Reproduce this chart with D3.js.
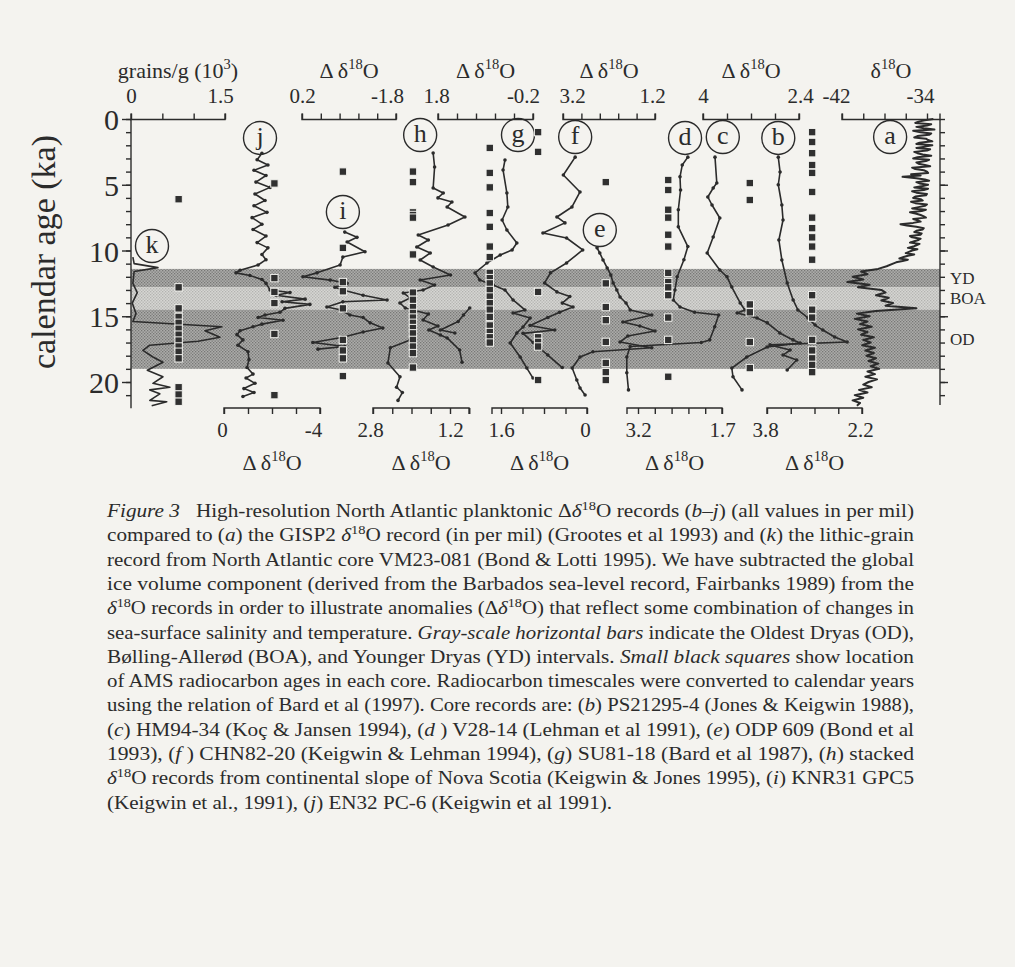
<!DOCTYPE html>
<html><head><meta charset="utf-8">
<script src="https://cdn.jsdelivr.net/npm/d3@7"></script>
<style>
body{margin:0;background:#f4f3ef;}
svg{display:block;}
text{font-family:"Liberation Serif","Times New Roman",serif;fill:#2b2b2b;}
</style></head><body>
<svg id="c" width="1015" height="967"></svg>
<script>
// ---------------- DATA ----------------
const ageMajorTicks = [0,5,10,15,20];
const ageMajorLabels = ['0','5','10','15','20'];
const ageMinorTicks = [0,1,2,3,4,5,6,7,8,9,10,11,12,13,14,15,16,17,18,19,20,21];

// climate intervals (ka)
const bandNames = ['YD','BOA','OD'];
const bandFrom  = [11.4, 12.8, 14.5];
const bandTo    = [12.8, 14.5, 19.0];
const bandTone  = ['dark','light','dark'];

// axis ticks / labels per panel
const ticksK=[0,0.5,1,1.5],                 labelsK=['0','','','1.5'];
const ticksJ=[0,-1,-2,-3,-4],               labelsJ=['0','','','','-4'];
const ticksI=[0.2,-0.2,-0.6,-1.0,-1.4,-1.8],labelsI=['0.2','','','','','-1.8'];
const ticksH=[2.8,2.4,2.0,1.6,1.2,0.8],     labelsH=['2.8','','','','1.2',''];
const ticksG=[1.8,1.4,1.0,0.6,0.2,-0.2],    labelsG=['1.8','','','','','-0.2'];
const ticksF=[1.6,1.2,0.8,0.4,0],           labelsF=['1.6','','','','0'];
const ticksE=[3.2,2.8,2.4,2.0,1.6,1.2],     labelsE=['3.2','','','','','1.2'];
const ticksD=[3.2,2.9,2.6,2.3,2.0,1.7],     labelsD=['3.2','','','','','1.7'];
const ticksC=[4,3.6,3.2,2.8,2.4],           labelsC=['4','','','','2.4'];
const ticksB=[3.8,3.4,3.0,2.6,2.2],         labelsB=['3.8','','','','2.2'];
const ticksA=[-42,-40,-38,-36,-34],         labelsA=['-42','','','','-34'];

// records: [age ka, value]
const recK = [[10.5,0.03],[11.0,0.05],[11.3,0.43],[11.6,0.05],[12.5,0.03],[13.2,0.10],[14.0,0.02],[14.8,0.08],[15.4,0.03],[15.8,1.45],[16.1,1.18],[16.6,1.42],[16.9,1.07],[17.2,0.30],[17.6,0.19],[18.1,0.35],[18.5,0.51],[19.1,0.26],[19.6,0.51],[20.1,0.35],[20.4,0.62],[20.6,0.30],[20.9,0.46],[21.4,0.30],[21.5,0.57],[21.8,0.33]];
const recJ = [[2.6,-1.58],[3.1,-1.38],[3.5,-1.83],[3.9,-1.25],[4.3,-1.75],[4.8,-1.33],[5.2,-1.92],[5.7,-1.29],[6.2,-1.71],[6.6,-1.25],[7.1,-1.79],[7.5,-1.17],[8.0,-1.58],[8.4,-1.21],[8.9,-1.75],[9.4,-1.38],[9.8,-1.83],[10.3,-1.58],[10.7,-1.75],[11.1,-1.42],[11.5,-0.67],[11.7,-0.5],[11.9,-1.08],[12.2,-1.58],[12.5,-1.75],[13.0,-1.92],[13.2,-2.75],[13.4,-2.17],[13.7,-3.38],[13.9,-2.42],[14.1,-3.58],[14.4,-2.54],[14.7,-2.33],[14.9,-1.71],[15.1,-1.42],[15.3,-2.46],[15.6,-1.58],[15.8,-1.21],[16.1,-0.67],[16.4,-0.54],[16.8,-0.79],[17.2,-0.58],[17.7,-1.0],[18.3,-1.04],[18.9,-0.96],[19.4,-1.21],[19.7,-0.92],[20.1,-1.29],[20.5,-0.83],[20.8,-1.25],[21.1,-0.79]];
const recI = [[8.6,-0.71],[9.0,-0.97],[9.35,-0.76],[10.1,-1.14],[10.5,-0.67],[11.1,-0.61],[11.7,-0.12],[12.0,0.18],[12.25,-0.4],[12.5,-0.76],[12.8,-0.5],[13.0,-0.67],[13.4,-1.1],[13.76,-1.61],[13.9,-0.67],[14.3,-0.33],[14.5,-0.61],[14.9,-0.82],[15.1,-1.1],[15.5,-1.25],[15.9,-1.52],[16.2,-1.1],[16.6,-0.67],[17.0,-0.03],[17.3,-0.71],[17.5,-0.14]];
const recH = [[2.59,1.55],[3.65,1.52],[5.25,1.55],[5.63,1.34],[6.0,1.45],[6.31,1.16],[6.69,1.26],[7.45,0.89],[8.06,1.24],[8.82,1.86],[9.2,1.65],[9.73,1.89],[10.19,1.61],[10.72,1.82],[11.25,1.55],[11.86,1.19],[12.24,1.82],[12.62,1.52],[13.0,1.76],[13.23,2.17],[13.61,2.03],[13.99,2.24],[14.37,2.13],[14.83,1.65],[15.29,1.76],[15.74,1.45],[16.05,1.64],[16.43,1.40],[16.65,1.26],[17.57,1.0],[18.5,0.95]];
const recH2 = [[14.37,0.79],[14.9,0.92],[15.4,1.03],[16.05,1.40],[16.27,1.10]];
const recH3 = [[16.8,2.03],[17.4,2.44],[18.55,2.49],[19.6,2.24],[20.4,2.31],[20.8,2.19],[21.4,2.28]];
const recG = [[3.12,0.39],[3.88,0.43],[5.63,0.35],[6.69,0.33],[7.68,0.45],[8.44,0.35],[9.43,0.14],[9.96,0.24],[10.34,0.49],[10.95,0.77],[11.71,1.02],[12.24,0.92],[12.62,0.64],[13.0,0.39],[13.76,0.22],[14.52,-0.03],[14.75,0.22],[15.13,-0.14],[15.82,0.01],[16.27,0.14],[17.03,0.28],[18.1,0.07],[18.94,-0.07],[19.7,-0.2]];
const recF = [[2.9,0.22],[4.26,0.44],[5.55,0.13],[6.69,0.28],[7.45,0.56],[7.9,0.41],[8.67,0.82],[9.05,0.38],[9.96,0.08],[10.95,0.38],[11.7,0.68],[12.47,0.79],[13.15,0.56],[13.5,0.32],[14.0,0.46],[14.3,0.26],[14.7,0.51],[15.1,0.73],[15.7,1.06],[16.05,0.60],[16.3,1.19],[17.0,1.0],[17.95,0.73],[18.9,0.46]];
const recE = [[9.8,2.46],[10.19,2.4],[10.72,2.33],[11.33,2.24],[11.86,2.16],[12.47,2.11],[13.0,2.03],[13.54,1.96],[13.99,1.83],[14.52,1.74],[14.9,1.27],[15.44,1.9],[15.74,1.53],[16.12,1.2],[16.5,1.79],[16.96,1.96],[17.4,1.27],[17.7,2.55],[18.1,2.83],[18.94,3.0],[19.85,2.9],[20.46,2.83],[20.99,2.72]];
const recD = [[2.9,2.31],[3.5,2.41],[4.4,2.45],[5.4,2.44],[6.9,2.48],[8.2,2.48],[9.7,2.31],[10.7,2.38],[12.0,2.50],[13.0,2.54],[13.76,2.57],[14.3,2.45],[14.7,2.19],[14.9,1.76],[15.8,1.83],[16.8,1.92],[17.0,2.07],[17.3,3.34],[18.1,3.40],[19.3,3.40],[20.6,3.37]];
const recC = [[2.9,3.8],[4.87,3.77],[5.25,3.83],[5.93,3.92],[6.54,3.85],[7.53,3.72],[8.97,3.83],[10.19,3.93],[11.48,3.72],[12.0,3.6],[12.78,3.52],[13.99,3.38],[14.52,3.3],[14.75,3.43],[15.13,3.1],[15.5,2.93],[16.27,2.72],[16.8,2.5],[17.03,2.38],[17.34,2.93],[18.1,3.27],[18.94,3.52],[19.6,3.5],[20.6,3.35]];
const recB = [[2.9,3.61],[4.03,3.58],[5.0,3.61],[6.54,3.55],[7.68,3.53],[9.2,3.6],[10.72,3.55],[12.47,3.46],[13.76,3.36],[14.52,3.28],[15.13,3.11],[15.67,2.99],[16.05,2.86],[16.58,2.66],[16.96,2.45],[17.18,3.75],[17.57,3.41],[17.95,3.53],[18.33,3.3],[19.09,3.46]];
const recA = [[0.0,-33.4],[0.1,-34.2],[0.2,-34.8],[0.3,-35.1],[0.4,-33.6],[0.5,-34.0],[0.6,-35.0],[0.7,-34.3],[0.8,-33.3],[0.9,-35.3],[1.0,-34.6],[1.1,-33.6],[1.2,-33.8],[1.3,-34.9],[1.4,-35.2],[1.5,-34.1],[1.6,-33.9],[1.7,-33.5],[1.8,-34.7],[1.9,-35.0],[2.0,-33.5],[2.1,-34.2],[2.2,-35.0],[2.3,-33.7],[2.4,-34.0],[2.5,-35.2],[2.6,-34.9],[2.7,-34.4],[2.8,-33.6],[2.9,-34.9],[3.0,-35.3],[3.1,-33.8],[3.2,-34.1],[3.3,-35.0],[3.4,-34.8],[3.5,-34.2],[3.6,-33.7],[3.7,-35.4],[3.8,-35.1],[3.9,-34.3],[4.0,-34.0],[4.1,-33.9],[4.2,-35.5],[4.3,-34.6],[4.4,-36.3],[4.5,-35.0],[4.6,-34.2],[4.7,-33.8],[4.8,-35.0],[4.9,-34.7],[5.0,-33.9],[5.1,-34.4],[5.2,-35.2],[5.3,-33.9],[5.4,-34.3],[5.5,-35.4],[5.6,-35.0],[5.7,-34.0],[5.8,-34.1],[5.9,-35.1],[6.0,-35.3],[6.1,-34.6],[6.2,-34.4],[6.3,-35.5],[6.4,-35.1],[6.5,-34.0],[6.6,-34.2],[6.7,-34.8],[6.8,-35.4],[6.9,-34.1],[7.0,-34.5],[7.1,-35.6],[7.2,-35.0],[7.3,-34.6],[7.4,-34.3],[7.5,-34.1],[7.6,-35.3],[7.7,-34.9],[7.8,-34.6],[7.9,-35.3],[8.0,-36.5],[8.1,-35.9],[8.2,-35.0],[8.3,-34.3],[8.4,-34.4],[8.5,-35.0],[8.6,-35.2],[8.7,-34.5],[8.8,-34.6],[8.9,-35.6],[9.0,-35.4],[9.1,-34.6],[9.2,-34.8],[9.3,-35.2],[9.4,-35.6],[9.5,-34.7],[9.6,-35.0],[9.7,-35.3],[9.8,-35.8],[9.9,-34.9],[10.0,-35.4],[10.1,-35.7],[10.2,-36.0],[10.3,-35.2],[10.4,-35.8],[10.5,-36.2],[10.6,-36.6],[10.7,-35.8],[10.8,-36.3],[10.9,-36.9],[11.0,-37.2],[11.2,-37.8],[11.4,-38.6],[11.6,-40.2],[11.8,-39.6],[12.0,-41.0],[12.2,-40.0],[12.4,-41.5],[12.6,-39.4],[12.8,-40.5],[13.0,-38.3],[13.2,-37.9],[13.4,-38.8],[13.6,-37.6],[13.8,-38.3],[14.0,-37.2],[14.2,-37.9],[14.4,-35.0],[14.6,-38.8],[14.8,-40.6],[15.0,-39.4],[15.2,-40.8],[15.4,-39.6],[15.6,-40.3],[15.8,-39.2],[16.0,-40.5],[16.2,-39.6],[16.4,-40.2],[16.6,-39.0],[16.8,-40.0],[17.0,-39.3],[17.2,-40.1],[17.4,-38.9],[17.6,-39.8],[17.8,-39.0],[18.0,-39.7],[18.2,-38.8],[18.4,-39.5],[18.6,-38.6],[18.8,-39.3],[19.0,-38.5],[19.2,-39.6],[19.4,-38.9],[19.6,-39.8],[19.8,-38.7],[20.0,-39.5],[20.2,-40.0],[20.4,-39.2],[20.6,-40.4],[20.8,-39.6],[21.0,-40.8],[21.2,-40.0],[21.4,-41.0],[21.6,-40.3],[21.8,-40.6]];

// AMS radiocarbon date positions (ka) and their column value
const datesK=[6.1,12.8,14.4,15.05,15.5,15.95,16.4,16.85,17.3,17.7,18.2,20.4,20.95,21.5], colK=0.76;
const datesJ=[4.9,12.1,13.15,14.0,16.35,21.0], colJ=-2.1;
const datesI=[4.0,9.8,12.4,13.1,14.4,16.8,17.6,18.2,19.55], colI=-0.67;
const datesH=[4.0,4.8,7.1,7.3,7.5,10.3,13.2,13.75,14.3,14.75,15.1,15.5,15.9,16.3,16.8,17.3,17.8,18.9], colH=1.97;
const datesG=[2.2,4.1,5.2,7.15,8.2,9.7,10.5,11.7,12.1,12.5,13.0,13.5,14.0,14.5,15.05,15.7,16.2,16.6,17.0], colG=0.71;
const datesF=[1.0,2.5,13.15,16.6,16.95,17.3,19.85], colF=0.91;
const datesE=[4.8,12.5,14.3,15.3,16.95,18.55,19.25,19.85], colE=2.27;
const datesD=[4.64,5.4,6.9,7.5,8.8,9.7,11.7,12.4,12.8,13.4,15.1,16.8,19.6], colD=2.66;
const datesC=[4.87,6.16,14.1,14.7,16.96,18.94], colC=3.22;
const datesB=[1.0,1.75,2.6,3.5,4.1,5.55,7.5,8.3,9.0,9.7,10.7,13.4,14.5,15.1,16.8,17.6,18.2,18.7,19.25], colB=3.04;

// panel letter labels: [age, value]
const letterK=[9.66,0.335], letterJ=[1.44,-1.5], letterI=[7.07,-0.67], letterH=[1.22,1.82], letterG=[1.22,0.116], letterF=[1.37,0.22], letterE=[8.44,2.4], letterD=[1.44,2.36], letterC=[1.37,3.67], letterB=[1.44,3.61], letterA=[1.37,-37.47];

const captionLines = [
 "*Figure 3*   High-resolution North Atlantic planktonic Δ*δ*^18^O records (*b–j*) (all values in per mil)",
 "compared to (*a*) the GISP2 *δ*^18^O record (in per mil) (Grootes et al 1993) and (*k*) the lithic-grain",
 "record from North Atlantic core VM23-081 (Bond & Lotti 1995). We have subtracted the global",
 "ice volume component (derived from the Barbados sea-level record, Fairbanks 1989) from the",
 "*δ*^18^O records in order to illustrate anomalies (Δ*δ*^18^O) that reflect some combination of changes in",
 "sea-surface salinity and temperature. *Gray-scale horizontal bars* indicate the Oldest Dryas (OD),",
 "Bølling-Allerød (BOA), and Younger Dryas (YD) intervals. *Small black squares* show location",
 "of AMS radiocarbon ages in each core. Radiocarbon timescales were converted to calendar years",
 "using the relation of Bard et al (1997). Core records are: (*b*) PS21295-4 (Jones & Keigwin 1988),",
 "(*c*) HM94-34 (Koç & Jansen 1994), (*d* ) V28-14 (Lehman et al 1991), (*e*) ODP 609 (Bond et al",
 "1993), (*f* ) CHN82-20 (Keigwin & Lehman 1994), (*g*) SU81-18 (Bard et al 1987), (*h*) stacked",
 "*δ*^18^O records from continental slope of Nova Scotia (Keigwin & Jones 1995), (*i*) KNR31 GPC5",
 "(Keigwin et al., 1991), (*j*) EN32 PC-6 (Keigwin et al 1991)."
];

// ---------------- LAYOUT ----------------
const L = {
  W:1015, H:967, bg:'#f4f3ef', ink:'#2b2b2b',
  ageY:[119,382], plotX:[131,940], topY:119.5, bottomY:408,
  leftEnd:22, rightEnd:21.75,
  topLabelPad:11, bottomLabelPad:8,
  topTitleY:78, bottomTitleY:470,
  yTitleX:43, yTitleY:252, yTitleSize:34, ageLabelSize:30,
  capX:107, capRight:914, capLastRight:612, capY:517, capStep:24.3, capSize:19.2
};
const TD = ['Δ δ','18','O'];
const panels = [
 {k:'k', side:'top',    dom:[0,1.5],   rng:[131,225], line:[131,225], dx:[0,0,0,-5],      ticks:ticksK, labels:labelsK, title:['grains/g (10','3',')'], recs:[recK], dots:false, dates:datesK, col:colK, letter:letterK},
 {k:'j', side:'bottom', dom:[0,-4],    rng:[224,320], line:[224,320], dx:[-2,0,0,0,-7],   ticks:ticksJ, labels:labelsJ, title:TD, recs:[recJ], dots:true, dates:datesJ, col:colJ, letter:letterJ},
 {k:'i', side:'top',    dom:[0.2,-1.8],rng:[302,396], line:[302,396], dx:[0,0,0,0,0,-9], ticks:ticksI, labels:labelsI, title:TD, recs:[recI], dots:true, dates:datesI, col:colI, letter:letterI},
 {k:'h', side:'bottom', dom:[2.8,1.2], rng:[373,450], line:[373,469], dx:[-3,0,0,0,0,0], ticks:ticksH, labels:labelsH, title:TD, recs:[recH,recH2,recH3], dots:true, dates:datesH, col:colH, letter:letterH},
 {k:'g', side:'top',    dom:[1.8,-0.2],rng:[438,533], line:[438,533], dx:[-2,0,0,0,0,-10],ticks:ticksG, labels:labelsG, title:TD, recs:[recG], dots:true, dates:datesG, col:colG, letter:letterG},
 {k:'f', side:'bottom', dom:[1.6,0],   rng:[501,587], line:[492,587], dx:[0,0,0,0,-2],   ticks:ticksF, labels:labelsF, title:TD, recs:[recF], dots:true, dates:datesF, col:colF, letter:letterF},
 {k:'e', side:'top',    dom:[3.2,1.2], rng:[563,655], line:[563,655], dx:[9,0,0,0,0,-3], ticks:ticksE, labels:labelsE, title:TD, recs:[recE], dots:true, dates:datesE, col:colE, letter:letterE},
 {k:'d', side:'bottom', dom:[3.2,1.7], rng:[638,722], line:[627,722], dx:[0,0,0,0,0,0],  ticks:ticksD, labels:labelsD, title:TD, recs:[recD], dots:true, dates:datesD, col:colD, letter:letterD},
 {k:'c', side:'top',    dom:[4,2.4],   rng:[703,799], line:[703,799], dx:[0,0,0,0,1],    ticks:ticksC, labels:labelsC, title:TD, recs:[recC], dots:true, dates:datesC, col:colC, letter:letterC},
 {k:'b', side:'bottom', dom:[3.8,2.2], rng:[767,862], line:[767,862], dx:[-2,0,0,0,-2],  ticks:ticksB, labels:labelsB, title:TD, recs:[recB], dots:true, dates:datesB, col:colB, letter:letterB},
 {k:'a', side:'top',    dom:[-42,-34], rng:[842,927], line:[842,940], dx:[-6,0,0,0,-7],  ticks:ticksA, labels:labelsA, title:['δ','18','O'], recs:[recA], dots:false, dense:true, dates:[], col:0, letter:letterA}
];

// ---------------- DRAW ----------------
const svg = d3.select('#c');
svg.append('rect').attr('width',L.W).attr('height',L.H).attr('fill',L.bg);
const y = d3.scaleLinear().domain([0,20]).range(L.ageY);

const defs = svg.append('defs');
function pat(id, bg, dot){
  const p = defs.append('pattern').attr('id',id).attr('width',3).attr('height',3).attr('patternUnits','userSpaceOnUse');
  p.append('rect').attr('width',3).attr('height',3).attr('fill',bg);
  p.append('rect').attr('x',0).attr('y',0).attr('width',1.3).attr('height',1.3).attr('fill',dot);
  p.append('rect').attr('x',1.5).attr('y',1.5).attr('width',1.3).attr('height',1.3).attr('fill',dot);
}
pat('pd','#acacaa','#777775');
pat('pl','#d6d6d3','#b2b2af');
svg.selectAll('.band').data(bandNames).enter().append('rect')
  .attr('x',L.plotX[0]).attr('width',L.plotX[1]-L.plotX[0])
  .attr('y',(d,i)=>y(bandFrom[i])).attr('height',(d,i)=>y(bandTo[i])-y(bandFrom[i]))
  .attr('fill',(d,i)=>bandTone[i]==='dark'?'url(#pd)':'url(#pl)');
svg.selectAll('.bl').data(bandNames).enter().append('text')
  .attr('x',L.plotX[1]+10).attr('y',(d,i)=>y((bandFrom[i]+bandTo[i])/2)+6)
  .attr('font-size',17).text(d=>d);

function styleAxis(g){
  g.selectAll('path,line').attr('stroke',L.ink).attr('stroke-width',1.4);
  g.selectAll('text').attr('font-family','"Liberation Serif",serif').attr('fill',L.ink);
}
const leftMinor = svg.append('g').attr('transform',`translate(${L.plotX[0]},0)`)
  .call(d3.axisLeft(y).tickValues(ageMinorTicks).tickSize(5).tickSizeOuter(0).tickFormat(''));
leftMinor.select('.domain').attr('d',`M0,${y(0)}V${y(L.leftEnd)}`);
styleAxis(leftMinor);
const leftMajor = svg.append('g').attr('transform',`translate(${L.plotX[0]},0)`)
  .call(d3.axisLeft(y).tickValues(ageMajorTicks).tickSize(9).tickSizeOuter(0).tickPadding(3).tickFormat((d,i)=>ageMajorLabels[i]));
leftMajor.select('.domain').remove();
styleAxis(leftMajor);
leftMajor.selectAll('text').attr('font-size',L.ageLabelSize).attr('dy','0.35em');
const rightMinor = svg.append('g').attr('transform',`translate(${L.plotX[1]},0)`)
  .call(d3.axisRight(y).tickValues(ageMinorTicks).tickSize(5).tickSizeOuter(0).tickFormat(''));
rightMinor.select('.domain').attr('d',`M0,${y(0)}V${y(L.rightEnd)}`);
styleAxis(rightMinor);
const rightMajor = svg.append('g').attr('transform',`translate(${L.plotX[1]},0)`)
  .call(d3.axisRight(y).tickValues(ageMajorTicks.slice(1)).tickSize(8).tickSizeOuter(0).tickFormat(''));
rightMajor.select('.domain').remove();
styleAxis(rightMajor);

svg.append('text').attr('transform',`translate(${L.yTitleX},${L.yTitleY}) rotate(-90)`)
  .attr('text-anchor','middle').attr('dominant-baseline','central').attr('font-size',L.yTitleSize).text('calendar age (ka)');

function supTitle(x, yy, parts, size){
  const t = svg.append('text').attr('x',x).attr('y',yy).attr('text-anchor','middle').attr('font-size',size);
  t.append('tspan').text(parts[0]);
  t.append('tspan').attr('font-size',size*0.66).attr('dy',-size*0.4).text(parts[1]);
  t.append('tspan').attr('dy',size*0.4).text(parts[2]);
}

panels.forEach(p=>{
  const x = d3.scaleLinear().domain(p.dom).range(p.rng);
  const top = p.side==='top';
  const ay = top ? L.topY : L.bottomY;
  const ts = 6;
  const ax = (top?d3.axisTop(x):d3.axisBottom(x)).tickValues(p.ticks).tickSize(ts).tickSizeOuter(0)
    .tickPadding(top?L.topLabelPad:L.bottomLabelPad)
    .tickFormat((d,i)=> p.labels[i]);
  const g = svg.append('g').attr('transform',`translate(0,${ay})`).call(ax);
  const s = top ? -ts : ts;
  g.select('.domain').attr('d',`M${p.line[0]},${s}V0H${p.line[1]}V${s}`);
  styleAxis(g);
  g.selectAll('text').attr('font-size',21).attr('dx',(d,i)=>p.dx[i]||0);
  supTitle((p.line[0]+p.line[1])/2, top?L.topTitleY:L.bottomTitleY, p.title, 22);

  const line = d3.line().x(d=>x(d[1])).y(d=>y(d[0]));
  p.recs.forEach(r=>{
    svg.append('path').attr('d',line(r)).attr('fill','none').attr('stroke',L.ink)
      .attr('stroke-width',p.dense?2.0:1.6).attr('stroke-linejoin','round');
    if(p.dots){
      svg.append('g').selectAll('circle').data(r).enter().append('circle')
        .attr('cx',d=>x(d[1])).attr('cy',d=>y(d[0])).attr('r',1.8).attr('fill',L.ink);
    }
  });
  svg.append('g').selectAll('rect').data(p.dates).enter().append('rect')
    .attr('x',x(p.col)-3.7).attr('y',d=>y(d)-3.7).attr('width',7.4).attr('height',7.4)
    .attr('fill','#303030').attr('stroke','#f2f2ee').attr('stroke-width',1);
  const cx = x(p.letter[1]), cy = y(p.letter[0]);
  svg.append('circle').attr('cx',cx).attr('cy',cy).attr('r',16.5).attr('fill','none')
    .attr('stroke',L.ink).attr('stroke-width',1.4);
  svg.append('text').attr('x',cx).attr('y',cy+7).attr('text-anchor','middle').attr('font-size',26).text(p.k);
});

// caption
captionLines.forEach((ln,i)=>{
  const t = svg.append('text').attr('x',L.capX).attr('y',L.capY+i*L.capStep)
    .attr('font-size',L.capSize).style('white-space','pre');
  const parts = ln.split(/(\*[^*]+\*|\^[^^]+\^)/).filter(s=>s.length);
  let shift = 0;
  parts.forEach(s=>{
    const sp = t.append('tspan');
    if(s[0]==='*'){ sp.attr('font-style','italic').text(s.slice(1,-1)); if(shift){sp.attr('dy',shift);shift=0;} }
    else if(s[0]==='^'){ sp.attr('font-size',L.capSize*0.68).attr('dy',-L.capSize*0.38).text(s.slice(1,-1)); shift=L.capSize*0.38; }
    else { sp.text(s); if(shift){sp.attr('dy',shift);shift=0;} }
  });
  const right = i<captionLines.length-1 ? L.capRight : L.capLastRight;
  t.attr('textLength',right-L.capX).attr('lengthAdjust','spacingAndGlyphs');
});
</script>
</body></html>
